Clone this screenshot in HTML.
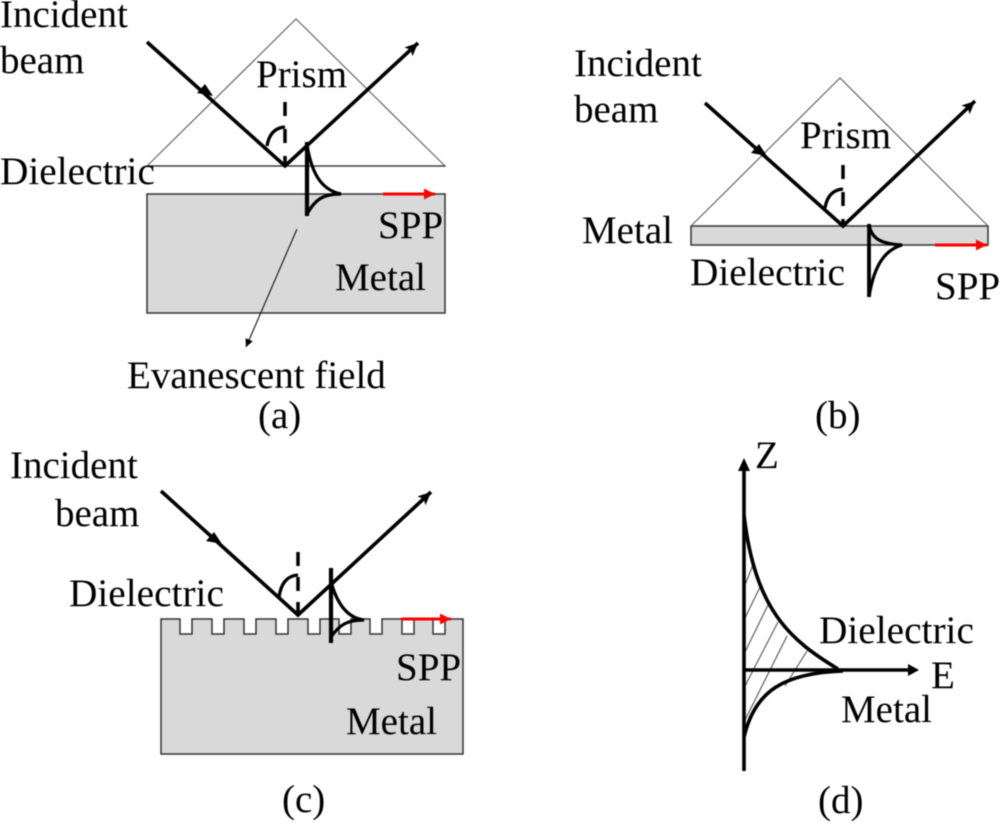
<!DOCTYPE html>
<html>
<head>
<meta charset="utf-8">
<style>
html,body{margin:0;padding:0;background:#fff;width:1000px;height:828px;overflow:hidden}
svg{display:block;filter:blur(0.45px)}
text{font-family:"Liberation Serif",serif;font-size:39px;fill:#000}
</style>
</head>
<body>
<svg width="1000" height="828" viewBox="0 0 1000 828" xmlns="http://www.w3.org/2000/svg">
<defs>
<marker id="ah" markerUnits="userSpaceOnUse" markerWidth="16" markerHeight="14" refX="13" refY="6" orient="auto"><path d="M0 0L13 6L0 12L3 6Z" fill="#000"/></marker>
<marker id="rh" markerUnits="userSpaceOnUse" markerWidth="16" markerHeight="14" refX="11" refY="6" orient="auto"><path d="M0 0.5L11 6L0 11.5Z" fill="#f00"/></marker>
<marker id="sh" markerUnits="userSpaceOnUse" markerWidth="10" markerHeight="10" refX="8" refY="4" orient="auto"><path d="M0 0L8 4L0 8Z" fill="#000"/></marker>
</defs>

<!-- Panel a -->
<rect x="147" y="194" width="298" height="119" fill="#d9d9d9" stroke="#333" stroke-width="1.5"/>
<path d="M147 166L296 19L445 166Z" fill="none" stroke="#666" stroke-width="1.2"/>
<path d="M147 166H445" stroke="#333" stroke-width="1.3"/>
<path d="M147 42L285 166L418 43" fill="none" stroke="#000" stroke-width="3.6" marker-end="url(#ah)"/>
<path d="M205 84L213 96L197 93Z" fill="#000"/>
<path d="M285 102V166" stroke="#000" stroke-width="3.5" stroke-dasharray="14 13 14 13 14" fill="none"/>
<path d="M267 146Q270 128 285 127" fill="none" stroke="#000" stroke-width="3.3"/>
<path d="M307 142V216" stroke="#000" stroke-width="4.2" fill="none"/>
<path d="M307 145C312 175 322 190 341 194C322 194 315 200 307 214" fill="none" stroke="#000" stroke-width="3.2"/>
<path d="M383 194H435" stroke="#f00" stroke-width="3" marker-end="url(#rh)"/>
<path d="M297 229L246 347" stroke="#222" stroke-width="1.2" marker-end="url(#sh)"/>
<text x="0" y="27">Incident</text>
<text x="0" y="73">beam</text>
<text x="256" y="87">Prism</text>
<text x="0" y="184" style="font-size:39.3px">Dielectric</text>
<text x="378" y="238">SPP</text>
<text x="335" y="290">Metal</text>
<text x="127" y="388">Evanescent field</text>
<text x="258" y="428">(a)</text>

<!-- Panel b -->
<rect x="691" y="226" width="297" height="19" fill="#d9d9d9" stroke="#333" stroke-width="1.5"/>
<path d="M691 226L840 78L988 226" fill="none" stroke="#666" stroke-width="1.2"/>
<path d="M705 103L843 226L975 101" fill="none" stroke="#000" stroke-width="3.6" marker-end="url(#ah)"/>
<path d="M759 144L767 156L751 153Z" fill="#000"/>
<path d="M843 165V227" stroke="#000" stroke-width="3.5" stroke-dasharray="14 13 14 13 14" fill="none"/>
<path d="M825 208Q828 190 843 189" fill="none" stroke="#000" stroke-width="3.3"/>
<path d="M869 224C871 238 880 244 902 245C885 250 874 265 869 297" fill="none" stroke="#000" stroke-width="3.2"/>
<path d="M869 224V297" stroke="#000" stroke-width="3.8" fill="none"/>
<path d="M935 245H987" stroke="#f00" stroke-width="3" marker-end="url(#rh)"/>
<text x="574" y="76">Incident</text>
<text x="574" y="122">beam</text>
<text x="800" y="148">Prism</text>
<text x="582" y="243">Metal</text>
<text x="690" y="285" style="font-size:39.3px">Dielectric</text>
<text x="935" y="299">SPP</text>
<text x="815" y="428">(b)</text>

<!-- Panel c -->
<path d="M161 754V619H180V634H192V619H212V634H224V619H244V634H256V619H276V634H288V619H308V634H320V619H339V634H351V619H370V634H382V619H402V634H414V619H433V634H445V619H463V754Z" fill="#d9d9d9" stroke="#333" stroke-width="1.5"/>
<path d="M161 491L298 615L431 492" fill="none" stroke="#000" stroke-width="3.6" marker-end="url(#ah)"/>
<path d="M214 532L222 544L206 541Z" fill="#000"/>
<path d="M298 552V615" stroke="#000" stroke-width="3.5" stroke-dasharray="14 11 14 11 14" fill="none"/>
<path d="M279 597Q282 576 298 575" fill="none" stroke="#000" stroke-width="3.3"/>
<path d="M331 568V643" stroke="#000" stroke-width="4.2" fill="none"/>
<path d="M332 585C338 605 348 618 364 620C348 620 340 624 331 637" fill="none" stroke="#000" stroke-width="3.2"/>
<path d="M401 619H451" stroke="#f00" stroke-width="3" marker-end="url(#rh)"/>
<text x="10" y="478">Incident</text>
<text x="55" y="526">beam</text>
<text x="69" y="606" style="font-size:39.3px">Dielectric</text>
<text x="396" y="680">SPP</text>
<text x="346" y="734">Metal</text>
<text x="282" y="812">(c)</text>

<!-- Panel d -->
<g stroke="#555" stroke-width="1.1" fill="none">
<path d="M745 585L754 562"/>
<path d="M745 618L761 585"/>
<path d="M745 652L768 605"/>
<path d="M745 686L778 622"/>
<path d="M745 720L787 636"/>
<path d="M785 686L807 651"/>
</g>
<path d="M744 771V470" stroke="#000" stroke-width="3.6" fill="none"/>
<path d="M744 458L750 471H738Z" fill="#000"/>
<path d="M744 670H908" stroke="#000" stroke-width="3.4" fill="none"/>
<path d="M919 670L908 664V676Z" fill="#000"/>
<path d="M744 515C755 610 790 640 838 669" fill="none" stroke="#000" stroke-width="3.6"/>
<path d="M744 737C755 690 785 673 843 671" fill="none" stroke="#000" stroke-width="3.6"/>
<text x="755" y="468">Z</text>
<text x="931" y="688">E</text>
<text x="819" y="643" style="font-size:39.3px">Dielectric</text>
<text x="841" y="722">Metal</text>
<text x="818" y="813">(d)</text>
</svg>
</body>
</html>
